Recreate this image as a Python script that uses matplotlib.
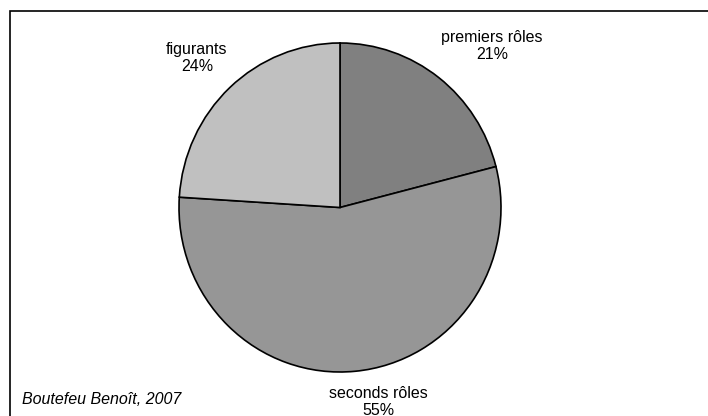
import matplotlib
matplotlib.use('Agg')
import matplotlib.pyplot as plt
from matplotlib.patches import Rectangle

labels = ['premiers rôles', 'seconds rôles', 'figurants']
shares = [21, 55, 24]
colors = ['#808080', '#969696', '#c0c0c0']
# label positions (pixels in the picture, centre of text block)
label_px = [(492, 46), (378, 402), (197, 58)]
source = 'Boutefeu Benoît, 2007'

plt.rcParams['font.family'] = ['Liberation Sans', 'DejaVu Sans']

W, H = 708, 416
fig = plt.figure(figsize=(W / 100, H / 100), dpi=100)

# pie is slightly stretched vertically in the original
cx, cy, rx, ry = 340, 207.5, 161, 164.5
ax = fig.add_axes([(cx - rx) / W, (H - cy - ry) / H, 2 * rx / W, 2 * ry / H])
ax.pie(shares, colors=colors, startangle=90, counterclock=False,
       wedgeprops=dict(edgecolor='black', linewidth=1.2))
ax.set_xlim(-1, 1)
ax.set_ylim(-1, 1)
ax.set_aspect('auto')
ax.axis('off')

for lab, val, (px, py) in zip(labels, shares, label_px):
    fig.text(px / W, 1 - py / H, f'{lab}\n{val}%', ha='center', va='center',
             fontsize=11.5, color='black', linespacing=1.15)

fig.text(22 / W, 1 - 400 / H, source, ha='left', va='center',
         fontsize=11.5, style='italic')

fig.patches.append(Rectangle((10 / W, -0.1), 1.0, (H - 11) / H + 0.1,
                             transform=fig.transFigure, fill=False,
                             edgecolor='black', linewidth=1.2))

fig.savefig('out.png', dpi=100)
